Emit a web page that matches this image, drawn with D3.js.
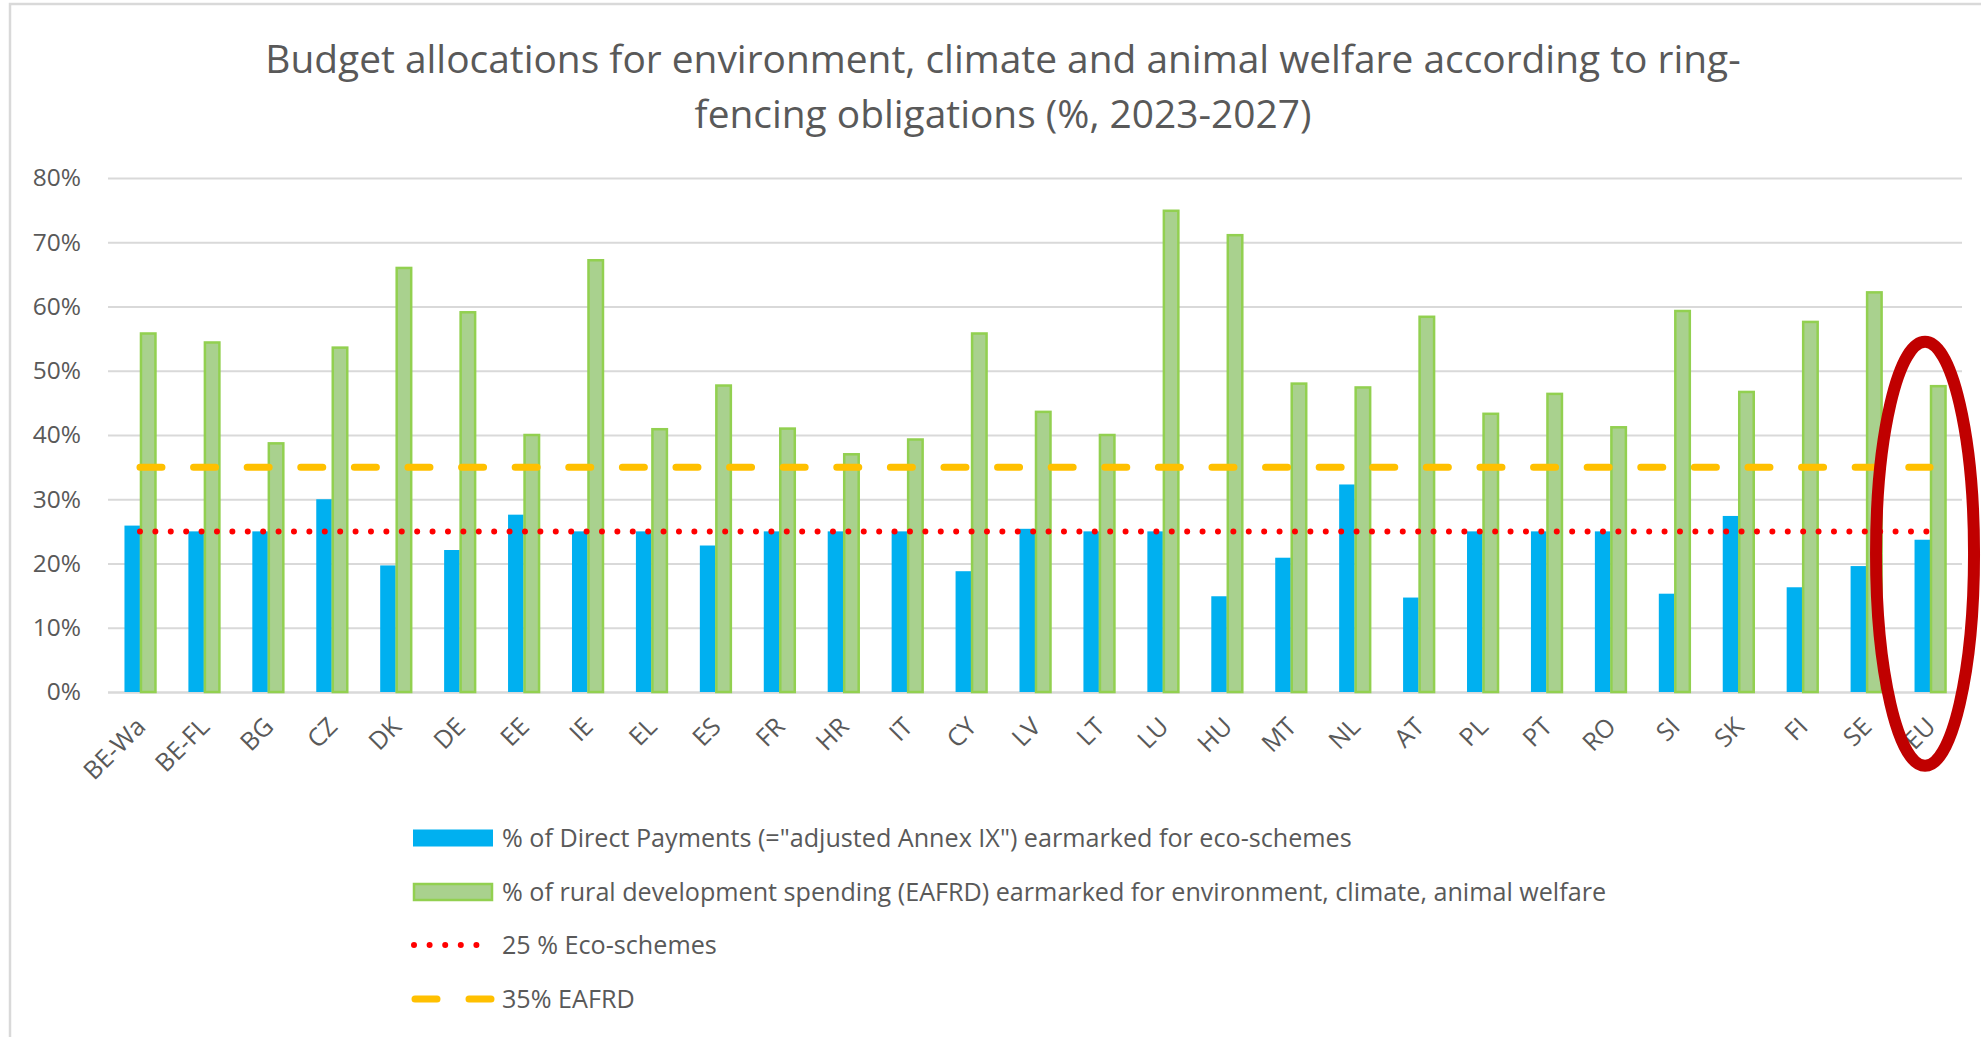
<!DOCTYPE html>
<meta charset="utf-8" />
<script src="https://d3js.org/d3.v7.min.js"></script>
<style>
    body { margin: 0; background: #ffffff; }
    text { font-family: "Open Sans", "Noto Sans", sans-serif; fill: #595959; }
</style>
<div id="chart"></div>
<script>
    // data
    const countries = ["BE-Wa", "BE-FL", "BG", "CZ", "DK", "DE", "EE", "IE", "EL", "ES", "FR", "HR", "IT", "CY", "LV",
        "LT", "LU", "HU", "MT", "NL", "AT", "PL", "PT", "RO", "SI", "SK", "FI", "SE", "EU"];
    const ecoSchemes = [25.9, 25.0, 25.0, 30.0, 19.7, 22.1, 27.6, 25.0, 25.0, 22.8, 25.0, 25.0, 25.0, 18.8, 25.4,
        25.0, 25.0, 14.9, 20.9, 32.3, 14.7, 25.0, 25.0, 25.0, 15.3, 27.4, 16.3, 19.6, 23.7];
    const ruralEnv = [55.8, 54.4, 38.7, 53.6, 66.0, 59.1, 40.0, 67.2, 40.9, 47.7, 41.0, 37.0, 39.3, 55.8, 43.6,
        40.0, 74.9, 71.1, 48.0, 47.4, 58.4, 43.3, 46.4, 41.2, 59.3, 46.7, 57.6, 62.2, 47.6];
    const ecoTarget = 25;
    const eafrdTarget = 35;
    const yTicks = [0, 10, 20, 30, 40, 50, 60, 70, 80];
    const titleLines = ["Budget allocations for environment, climate and animal welfare according to ring-",
        "fencing obligations (%, 2023-2027)"];
    const legendLabels = ["% of Direct Payments (=\"adjusted Annex IX\") earmarked for eco-schemes",
        "% of rural development spending (EAFRD) earmarked for environment, climate, animal welfare",
        "25 % Eco-schemes",
        "35% EAFRD"];

    const W = 1981, H = 1037;
    const plot = { left: 108, right: 1962, top: 178, bottom: 692 };

    const svg = d3.select("#chart").append("svg")
        .attr("width", W)
        .attr("height", H);

    // chart frame
    svg.append("rect")
        .attr("x", 10).attr("y", 4)
        .attr("width", W + 20).attr("height", H + 20)
        .attr("fill", "none")
        .attr("stroke", "#d9d9d9")
        .attr("stroke-width", 2.5);

    const x = d3.scaleBand().domain(countries).range([plot.left, plot.right]);
    const y = d3.scaleLinear().domain([0, 80]).range([plot.bottom, plot.top]);
    const mid = c => x(c) + x.bandwidth() / 2;

    // title, sized to the width seen in the reference
    const title = svg.append("g");
    titleLines.forEach((t, i) => {
        title.append("text")
            .attr("x", 1003)
            .attr("y", 59 + i * 55)
            .attr("dy", "0.35em")
            .attr("text-anchor", "middle")
            .attr("font-size", 30)
            .text(t);
    });
    const t0 = title.select("text").node().getComputedTextLength();
    title.selectAll("text").attr("font-size", 30 * 1476 / t0);

    // y axis with gridlines
    const yAxis = svg.append("g")
        .attr("transform", `translate(${plot.left},0)`)
        .call(d3.axisLeft(y).tickValues(yTicks).tickFormat(d => d + "%")
            .tickSize(-(plot.right - plot.left)).tickPadding(27));
    yAxis.select(".domain").remove();
    yAxis.selectAll(".tick line").attr("stroke", "#d9d9d9").attr("stroke-width", 2);
    yAxis.selectAll(".tick text").attr("font-size", 24.5).attr("fill", "#595959");
    yAxis.selectAll(".tick").filter(d => d === 0).select("line").attr("stroke-width", 2.5);

    // x axis labels
    const xAxis = svg.append("g")
        .attr("transform", `translate(0,${plot.bottom})`)
        .call(d3.axisBottom(x).tickSize(0));
    xAxis.select(".domain").remove();
    xAxis.selectAll(".tick text")
        .attr("font-size", 25)
        .attr("fill", "#595959")
        .attr("text-anchor", "end")
        .attr("dy", "0.35em")
        .attr("transform", "translate(1,30) rotate(-45)")
        .attr("y", 0).attr("x", 0);

    const barW = 15.5;

    svg.append("g").selectAll("rect")
        .data(countries)
        .join("rect")
        .attr("x", d => mid(d) - barW)
        .attr("y", (d, i) => y(ecoSchemes[i]))
        .attr("width", barW)
        .attr("height", (d, i) => y(0) - y(ecoSchemes[i]))
        .attr("fill", "#00b0f0");

    svg.append("g").selectAll("rect")
        .data(countries)
        .join("rect")
        .attr("x", d => mid(d) + 1)
        .attr("y", (d, i) => y(ruralEnv[i]))
        .attr("width", barW - 1)
        .attr("height", (d, i) => y(0) - y(ruralEnv[i]))
        .attr("fill", "#a9d18e")
        .attr("stroke", "#92d050")
        .attr("stroke-width", 2.5);

    // threshold lines
    const first = countries[0], last = countries[countries.length - 1];
    svg.append("line")
        .attr("x1", mid(first)).attr("x2", mid(last))
        .attr("y1", y(eafrdTarget)).attr("y2", y(eafrdTarget))
        .attr("stroke", "#ffc000")
        .attr("stroke-width", 7)
        .attr("stroke-linecap", "round")
        .attr("stroke-dasharray", "22 31.6");
    svg.append("line")
        .attr("x1", mid(first)).attr("x2", mid(last))
        .attr("y1", y(ecoTarget)).attr("y2", y(ecoTarget))
        .attr("stroke", "#ff0000")
        .attr("stroke-width", 6)
        .attr("stroke-linecap", "round")
        .attr("stroke-dasharray", "0 15.4");

    // red ellipse round the EU pair
    svg.append("ellipse")
        .attr("cx", mid(last) - 5)
        .attr("cy", y(21.5))
        .attr("rx", 49)
        .attr("ry", 212)
        .attr("fill", "none")
        .attr("stroke", "#c00000")
        .attr("stroke-width", 12);

    // legend
    const legendY = [838, 892, 945, 999];
    const lg = svg.append("g");
    lg.append("rect").attr("x", 413).attr("y", legendY[0] - 8.5).attr("width", 80).attr("height", 17)
        .attr("fill", "#00b0f0");
    lg.append("rect").attr("x", 414).attr("y", legendY[1] - 8).attr("width", 78).attr("height", 16)
        .attr("fill", "#a9d18e").attr("stroke", "#92d050").attr("stroke-width", 2.5);
    lg.append("line").attr("x1", 414).attr("x2", 492).attr("y1", legendY[2]).attr("y2", legendY[2])
        .attr("stroke", "#ff0000").attr("stroke-width", 6).attr("stroke-linecap", "round")
        .attr("stroke-dasharray", "0 15.6");
    lg.append("line").attr("x1", 415).attr("x2", 491).attr("y1", legendY[3]).attr("y2", legendY[3])
        .attr("stroke", "#ffc000").attr("stroke-width", 7).attr("stroke-linecap", "round")
        .attr("stroke-dasharray", "22 32");
    legendLabels.forEach((t, i) => {
        lg.append("text")
            .attr("class", "leg")
            .attr("x", 502)
            .attr("y", legendY[i])
            .attr("dy", "0.35em")
            .attr("font-size", 22)
            .text(t);
    });
    const l0 = lg.select("text.leg").node().getComputedTextLength();
    lg.selectAll("text.leg").attr("font-size", 22 * 850 / l0);
</script>
